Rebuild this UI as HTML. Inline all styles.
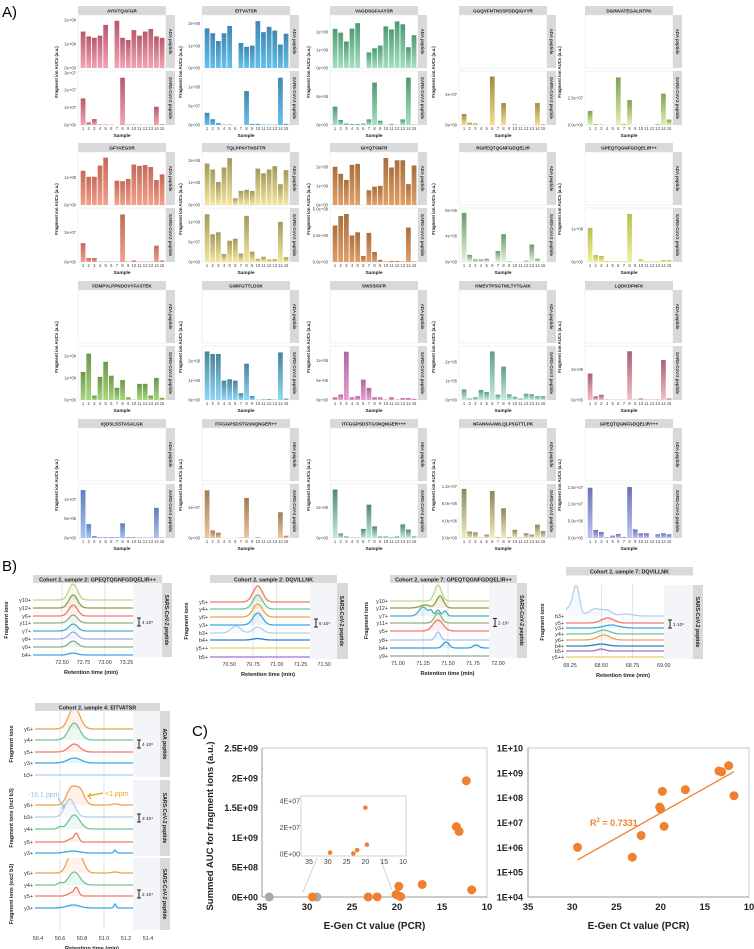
<!DOCTYPE html>
<html><head><meta charset="utf-8">
<style>
html,body{margin:0;padding:0;background:#fff;}
svg{display:block;font-family:"Liberation Sans",Arial,sans-serif;}
</style></head>
<body>
<svg id="fig" width="754" height="949" viewBox="0 0 754 949" xmlns="http://www.w3.org/2000/svg">
<defs id="defs"></defs>
<text x="2" y="17" font-size="15">A)</text>
<text x="2" y="571" font-size="15">B)</text>
<text x="192" y="736" font-size="15">C)</text>
<g id="gA"></g>
<g id="gB"></g>
<g id="gC"></g>
</svg>
<script>
// ---------- Panel A data ----------
const facetTitles=["AYIVTQAFGR","EITVATSR","VAGDSGFAAYSR","GGQVFNTNSSPDDQIGYYR","DGINVATEGALNTPK",
"GFYAEGSR","TQLPPAYTNSFTR","GIYQTSNFR","RGPEQTQGNFGDQELIR","GPEQTQGNFGDQELIR++",
"FDMPVLPPNDOVYFASTEK","GWIFGTTLDSK","SWSSISFR","KMEVTPSGTWLTYTGAIK","LQDKDPNFK",
"IQDSLSSTASALGK","ITFGGPSDSTGSNQNGER++","ITFGGPSDSTGSNQNGER+++","NFANNAAWLQLPSGTTLPK","GPEQTQGNFGDQELIR+++"];
const facetColors=[["#b65a6c","#f3a4b4"],["#3f87b3","#66c0ec"],["#4f9a73","#a6e0c2"],["#a48a45","#f2de8e"],["#7ea253","#e3efb0"],
["#c46a58","#f3a08b"],["#a39a5a","#f5e7a0"],["#a86f3e","#e3a068"],["#6e9870","#e8f3dc"],["#b8c04a","#eef0a0"],
["#6a9848","#a8d880"],["#4a859c","#8fd8f5"],["#b068a0","#e8a0d2"],["#5e9e8c","#c8ece0"],["#a86070","#f3c0c8"],
["#5e7ec0","#a8c4f0"],["#a07c5a","#edc89a"],["#4e8a70","#c6ecdc"],["#8c8660","#f0ecbc"],["#6a70b8","#c0c6f0"]];
const adaValues=[
[1.52,1.32,1.26,1.35,1.8,0,1.97,1.26,1.17,1.58,1.35,1.52,1.63,1.32,1.26],
[1.79,1.57,1.22,1.57,1.9,0,1.13,0.96,1.01,2.12,1.62,1.86,1.69,1.06,1.55],
[2.18,1.97,1.48,2.2,2.5,0,0.87,1.1,1.25,2.32,2.15,2.6,2.44,1.16,1.83],
null,null,
[1.25,1.03,1.03,1.44,1.73,0,0.89,0.87,0.95,1.48,1.43,1.46,1.39,0.91,1.12],
[1.86,1.59,1.03,1.68,2.1,0.3,0.63,0.68,0.63,1.63,1.42,1.59,1.74,0.93,1.56],
[2.0,1.63,1.31,2.1,2.15,0,0.77,0.96,1.0,2.46,1.96,2.34,2.34,1.09,2.07],
null,null,null,null,null,null,null,null,null,null,null,null];
const adaMax=[2.17,2.35,2.9,0,0,1.9,2.33,2.72,0,0,0,0,0,0,0,0,0,0,0,0];
const adaTicks=[[0,1,2],[0,1,2],[0,1,2],[],[],[0,1],[0,1,2],[0,1,2],[],[],[],[],[],[],[],[],[],[],[],[]];
const adaTickLabels=[["0e+00","1e+08","2e+08"],["0e+00","1e+08","2e+08"],["0e+00","1e+08","2e+08"],[],[],["0e+00","1e+08"],["0e+00","1e+08","2e+08"],["0e+00","1e+08","2e+08"],[],[],[],[],[],[],[],[],[],[],[],[]];
const sarsValues=[
[1.53,0.15,0.34,0.03,0.02,0.01,0,2.72,0.02,0.02,0.01,0.01,0.01,1.05,0.04],
[0.32,0.15,0.05,0.01,0.01,0,0,0.89,0.03,0.03,0.01,0.01,0.01,1.24,0.03],
[2.6,0.7,0.2,0.15,0.15,0.2,0.8,6.0,0.6,0.02,0.15,0.02,0.8,6.7,0.05],
[1.45,0.3,0.2,0,0,6.4,0,2.9,0,0.1,0,0,0,2.9,0.1],
[1.3,0.1,0.02,0,0,4.4,0.1,2.3,0,0,0,0,0.1,2.9,0.5],
[1.27,0.27,0.27,0.02,0.02,0.02,0.02,3.2,0.02,0.1,0.03,0.02,0.02,1.1,0.1],
[1.19,0.69,0.74,0.2,0.53,0.58,0.21,1.15,0.26,0.08,0.13,0.06,0.07,1.0,0.12],
[3.44,4.34,4.53,2.5,2.8,0.56,2.75,0.94,0.2,0.05,0.1,0.1,0.05,3.25,0.05],
[7.6,1.1,0.4,0.4,0.5,0,1.7,4.3,0.1,0,0,0.2,2.7,0.5,0],
[1.03,0.21,0.18,0.03,0.02,0.02,0.02,1.45,0,0.08,0.02,0.02,0.02,0.06,0.06],
[1.27,2.1,0.2,1.05,1.73,1.1,0.55,0.9,0.12,0.01,0.73,0.73,0.2,1.0,0.1],
[2.5,2.37,2.37,1.0,1.07,1.0,0.35,1.87,0.21,0.01,0.03,0.05,0.02,2.45,0.07],
[0.07,0.14,1.23,0.07,0.1,0.52,0.31,0.07,0.07,0.01,0.07,0.01,0.05,0.05,0.03],
[0.56,0.08,0.14,0.53,0.42,2.55,0.28,1.75,0.3,0.17,0.08,0.33,0.3,0.2,0.2],
[1.72,0.24,0.34,0.02,0.01,0.01,0.01,3.17,0.02,0.1,0.02,0.02,0.02,2.6,0.1],
[1.24,0.36,0.05,0.02,0.02,0.02,0.02,0.38,0.02,0.02,0.01,0.01,0.01,0.78,0.01],
[6.3,1.0,0.7,0,0,0,0.05,5.3,0,0.1,0,0,0,3.4,0.3],
[3.2,0.3,0.1,0.02,0.02,0.6,2.2,0.77,0.1,0.1,0.05,0.1,0.9,0.56,0.1],
[11.4,1.5,1.3,0.1,0.8,10.9,0.2,6.9,0.2,1.9,0.1,1.1,0.8,3.1,1.6],
[14.9,2.4,1.8,0.2,0.7,1.2,0.3,15.1,2.55,1.4,1.4,0,1.1,1.4,1.1]];
const sarsMax=[3.05,1.39,7.5,7.0,4.9,3.57,1.32,5.0,8.2,1.6,2.4,2.73,1.35,2.78,3.45,1.37,7.0,3.5,12.3,15.7];
const sarsTicks=[[0,1,2,3],[0,0.5,1],[0,4],[0,4],[0,2.5],[0,2],[0,0.5,1],[0,2.5,5],[0,4,8],[0,1],[0,1,2],[0,1,2],[0,0.5,1],[0,1,2],[0,2],[0,0.5,1],[0,4],[0,2],[0,4,8,12],[0,5,10,15]];
const sarsTickLabels=[["0e+00","1e+07","2e+07","3e+07"],["0e+00","5e+07","1e+08"],["0e+00","4e+08"],["0e+00","4e+07"],["0.0e+00","2.5e+07"],
["0e+00","2e+07"],["0e+00","5e+07","1e+08"],["0.0e+00","2.5e+08","5.0e+08"],["0e+00","4e+06","8e+06"],["0e+00","1e+08"],
["0e+00","1e+08","2e+08"],["0e+00","1e+08","2e+08"],["0e+00","5e+05","1e+06"],["0e+00","1e+05","2e+05"],["0e+00","2e+05"],
["0e+00","5e+06","1e+07"],["0e+00","4e+07"],["0e+00","2e+06"],["0.0e+00","4.0e+06","8.0e+06","1.2e+07"],["0.0e+00","5.0e+06","1.0e+07","1.5e+07"]];

// ---------- Panel C data ----------
const ctValues=[12.3,13.4,13.1,17.2,19.8,11.7,29.4,23.2,22.2,20.1,20.0,19.6];
const aucValues=[1.95e9,1.18e9,1.1e9,2.1e8,1.8e8,1.2e8,1.0e6,4.0e5,3.0e6,4.2e7,3.5e7,7.0e6];
const ctNegative=[34.2,28.9];
const aucNegative=[0,0];
const cLeftTicks=[0,5e8,1e9,1.5e9,2e9,2.5e9];
const cLeftTickLabels=["0E+00","5E+08","1E+09","1.5E+09","2E+09","2.5E+09"];
const cXTicks=[35,30,25,20,15,10];
const cLogTicks=[4,5,6,7,8,9,10];
const insetYTicks=[0,2e7,4e7];
const insetYLabels=["0E+00","2E+07","4E+07"];

const NS="http://www.w3.org/2000/svg";
const defs=document.getElementById('defs');
function el(tag,attrs,parent,txt){const e=document.createElementNS(NS,tag);for(const k in attrs)e.setAttribute(k,attrs[k]);if(txt!==undefined)e.textContent=txt;parent.appendChild(e);return e;}

// ---------- Panel A ----------
const gA=document.getElementById('gA');
const colX=[78,202,330,459,585], rowY=[6,143,281,419], PW=88, SW=9;
function subplot(g,fi,x,y,h,vals,max,ticks,labels,strip,showX){
  const bg=el('rect',{x:x,y:y,width:PW,height:h,fill:'#fff',stroke:'#e6e6e6','stroke-width':0.6},g);
  
  
  const st=el('rect',{x:x+PW,y:y,width:SW,height:h,fill:'#d9d9d9'},g);
  
  
  const stt=el('text',{x:0,y:0,'font-size':4.3,'font-weight':'bold','text-anchor':'middle',fill:'#333',transform:`translate(${x+PW+3},${y+h/2}) rotate(90)`},g,strip);
  
  
  const ys=v=>y+h-(v/max)*(h-1);
  if(vals){
    ticks.forEach((t,i)=>{
      const tl=el('text',{x:x-2,y:ys(t)+1.5,'font-size':4.2,'text-anchor':'end',fill:'#444'},g,labels[i]);
      
      
    });
    const band=PW/15.6;
    vals.forEach((v,i)=>{
      if(v<=0)return;
      const bx=x+band*0.4+i*band, by=ys(Math.min(v,max));
      const r=el('rect',{x:bx+band*0.08,y:by,width:band*0.84,height:y+h-by,fill:`url(#grad${fi})`},g);
      
      
    });
  }
  if(showX){
    const band=PW/15.6;
    for(let i=0;i<15;i++){
      const t=el('text',{x:x+band*0.4+i*band+band/2,y:y+h+5,'font-size':4.2,'text-anchor':'middle',fill:'#444'},g,String(i+1));
      
      
    }
  }
}
facetTitles.forEach((title,fi)=>{
  const c=fi%5, r=Math.floor(fi/5), x=colX[c], y0=rowY[r];
  const gr=el('linearGradient',{id:'grad'+fi,x1:0,y1:0,x2:0,y2:1},defs);
  el('stop',{offset:'0','stop-color':facetColors[fi][0]},gr);
  el('stop',{offset:'1','stop-color':facetColors[fi][1]},gr);
  const g=el('g',{},gA);
  
  
  const ts=el('rect',{x:x,y:y0,width:PW,height:9,fill:'#d9d9d9'},g);
  
  
  const tt=el('text',{x:x+PW/2,y:y0+6.3,'font-size':4.6,'font-weight':'bold','text-anchor':'middle',fill:'#222'},g,title);
  
  
  subplot(g,fi,x,y0+9,53,adaValues[fi],adaMax[fi],adaTicks[fi],adaTickLabels[fi],'ADA peptide',false);
  subplot(g,fi,x,y0+65,54,sarsValues[fi],sarsMax[fi],sarsTicks[fi],sarsTickLabels[fi],'SARS-CoV-2 peptide',true);
  const yl=el('text',{x:0,y:0,'font-size':4.3,'font-weight':'bold','text-anchor':'middle',fill:'#222',transform:`translate(${x-(c>=3?24:20)},${y0+66}) rotate(-90)`},g,'Fragment ion AUCs (a.u.)');
  
  
  const sl=el('text',{x:x+PW/2,y:y0+131,'font-size':4.8,'font-weight':'bold','text-anchor':'middle',fill:'#222'},g,'Sample');
  
  
});

// ---------- Panel B ----------
const gB=document.getElementById('gB');
const chromPanels=[
 {title:"Cohort 2, sample 2: GPEQTQGNFGDQELIR++",px:33,pr:133,gr:162,sr:172,ty:575,subs:[{y0:583,y1:657,strip:"SARS-CoV-2 peptide",scale:"4·10⁵",
  ions:["y10+","y12+","y6+","y11+","y7+","y8+","y9+","b4+"],base:[600,608,616,623,631,639,647,655],
  cols:["#b7d98a","#9a9a3a","#f07a6a","#8db07a","#4ab0c0","#a0a8e8","#80b090","#4aa0e0"],
  peaks:[[[72.63,16]],[[72.63,13]],[[72.63,11]],[[72.63,8]],[[72.63,7]],[[72.63,7]],[[72.63,6]],[[72.63,2]]]}],
  t0:72.5,x0:62,k:86,ticks:[72.5,72.75,73.0,73.25],tlab:["72.50","72.75","73.00","73.25"],grid:[72.5,73.0],ay:660},
 {title:"Cohort 2, sample 2: DQVILLNK",px:210,pr:310,gr:337,sr:348,ty:575,subs:[{y0:583,y1:659,strip:"SARS-CoV-2 peptide",scale:"6·10⁵",
  ions:["y5+","y4+","y6+","y3+","b3+","b4+","y5++","b5+"],base:[602,609,617,625,633,640,648,657],
  cols:["#f07a6a","#6cc69a","#f0a050","#3aa8e8","#b0d0f0","#2a80d0","#e8d060","#a070d0"],
  peaks:[[[70.8,16]],[[70.8,14]],[[70.8,13]],[[70.8,12]],[[70.57,7],[70.8,6]],[[70.8,1.5]],[],[]]}],
  t0:70.75,x0:253,k:95,ticks:[70.5,70.75,71.0,71.25,71.5],tlab:["70.50","70.75","71.00","71.25","71.50"],grid:[70.75,71.0],ay:662},
 {title:"Cohort 2, sample 7: GPEQTQGNFGDQELIR++",px:390,pr:489,gr:517,sr:527,ty:575,subs:[{y0:583,y1:658,strip:"SARS-CoV-2 peptide",scale:"2·10⁵",
  ions:["y10+","y12+","y7+","y11+","y5+","y8+","b4+","y9+"],base:[601,608,616,623,631,640,648,656],
  cols:["#b7d98a","#9a9a3a","#4ab0c0","#8db07a","#f07a6a","#a0c0f0","#3a98e0","#80b090"],
  peaks:[[[71.4,16,0.035]],[[71.42,12,0.035],[71.27,3]],[[71.25,9,0.04],[71.33,5,0.02],[71.4,6,0.02],[71.47,5,0.02]],[[71.4,10,0.035]],[[71.4,11,0.05]],[[71.4,8,0.025]],[[71.48,6,0.03],[71.78,3,0.03]],[]]}],
  t0:71.0,x0:398,k:100,ticks:[71.0,71.25,71.5,71.75,72.0],tlab:["71.00","71.25","71.50","71.75","72.00"],grid:[71.25,71.5],ay:661},
 {title:"Cohort 2, sample 7: DQVILLNK",px:566,pr:664,gr:693,sr:703,ty:567,subs:[{y0:585,y1:659,strip:"SARS-CoV-2 peptide",scale:"1·10⁶",
  ions:["b3+","y5+","y3+","y4+","y6+","b4+","b5+","y5++"],base:[616,623,628,634,640,646,651,657],
  cols:["#b0d0f0","#f07a6a","#3aa8e8","#6cc69a","#f0a050","#2a80d0","#a070d0","#e8d060"],
  peaks:[[[68.3,30,0.025],[68.24,8,0.03],[68.45,7,0.05],[68.55,5,0.04],[68.7,2,0.05]],[[68.55,5,0.05]],[[68.58,3,0.06]],[[68.52,4,0.05]],[[68.52,5,0.05]],[[68.5,2,0.05]],[[68.5,2,0.03]],[]]}],
  t0:68.25,x0:570,k:125,ticks:[68.25,68.5,68.75,69.0],tlab:["68.25","68.50","68.75","69.00"],grid:[68.5,68.75],ay:663},
 {title:"Cohort 2, sample 4: EITVATSR",px:35,pr:133,gr:160,sr:170,ty:703,subs:[
  {y0:711,y1:777,strip:"ADA peptide",scale:"4·10⁶",ylab:"Fragment ions",ions:["y6+","y4+","y5+","y3+","b3+"],base:[729,740,752,763,775],
   cols:["#f0a050","#6cc69a","#f07a6a","#3aa8e8","#b0d0f0"],peaks:[[[50.73,22,0.05]],[[50.73,17,0.05]],[[50.73,8,0.05]],[[50.73,5,0.06]],[]]},
  {y0:780,y1:856,strip:"SARS-CoV-2 peptide",scale:"3·10⁴",ylab:"Fragment ions (incl b3)",ions:["y6+","b3+","y4+","y5+","y3+"],base:[805,817,829,842,853],
   cols:["#f0a050","#b0d0f0","#6cc69a","#f07a6a","#3aa8e8"],peaks:[[[50.7,16,0.04],[50.78,15,0.04],[51.1,1,0.03]],[[50.69,18,0.045]],[[50.73,14,0.05],[50.6,2,0.02]],[[50.75,8,0.02],[50.7,3,0.03]],[[50.72,2,0.06],[51.1,3,0.01]]]},
  {y0:858,y1:930,strip:"SARS-CoV-2 peptide",scale:"2·10⁴",ylab:"Fragment ions (excl b3)",ions:["y6+","y4+","y5+","y3+"],base:[873,885,896,908],
   cols:["#f0a050","#6cc69a","#f07a6a","#3aa8e8"],peaks:[[[50.7,17,0.04],[50.78,16,0.04],[51.1,1,0.03]],[[50.73,13,0.05],[50.6,2,0.02]],[[50.75,8,0.02],[50.7,3,0.03]],[[50.72,3,0.06],[51.1,4,0.01]]]}],
  t0:50.4,x0:38,k:110,ticks:[50.4,50.6,50.8,51.0,51.2,51.4],tlab:["50.4","50.6","50.8","51.0","51.2","51.4"],grid:[50.6,51.0],ay:936}
];
chromPanels.forEach((P,pi)=>{
  const g=el('g',{},gB);
  
  
  const xs=v=>P.x0+(v-P.t0)*P.k;
  const ts=el('rect',{x:P.px,y:P.ty,width:P.gr-P.px,height:8.5,fill:'#d9d9d9'},g);
  
  
  const tt=el('text',{x:(P.px+P.gr)/2,y:P.ty+6.3,'font-size':5.4,'font-weight':'bold','text-anchor':'middle',fill:'#222'},g,P.title);
  
  
  P.subs.forEach((S,si)=>{
    const clip=el('clipPath',{id:`cp${pi}_${si}`},defs);
    el('rect',{x:P.px,y:S.y0,width:P.pr-P.px,height:S.y1-S.y0},clip);
    el('rect',{x:P.px,y:S.y0,width:P.pr-P.px,height:S.y1-S.y0,fill:'#fff'},g);
    const gr=el('rect',{x:P.pr,y:S.y0,width:P.gr-P.pr,height:S.y1-S.y0,fill:'#f3f5f8'},g);
    
    
    const st=el('rect',{x:P.gr,y:S.y0,width:P.sr-P.gr,height:S.y1-S.y0,fill:'#d9d9d9'},g);
    
    
    const stt=el('text',{x:0,y:0,'font-size':5.2,'font-weight':'bold','text-anchor':'middle',fill:'#222',transform:`translate(${P.gr+3},${(S.y0+S.y1)/2}) rotate(90)`},g,S.strip);
    
    
    P.grid.forEach(v=>{el('line',{x1:xs(v),x2:xs(v),y1:S.y0,y2:S.y1,stroke:'#d0d0d0','stroke-width':0.6},g);});
    const gl=el('g',{'clip-path':`url(#cp${pi}_${si})`},g);
    S.ions.forEach((ion,ii)=>{
      const b=S.base[ii];
      let d='',fillD='';
      for(let s=0;s<=120;s++){
        const px=P.px+(P.pr-P.px)*s/120, v=P.t0+(px-P.x0)/P.k;
        let h=0;S.peaks[ii].forEach(p=>{const sg=p[2]||0.05;h+=p[1]*Math.exp(-0.5*((v-p[0])/sg)**2);});
        const py=b-h;
        d+=(s?'L':'M')+px.toFixed(1)+','+py.toFixed(1);
      }
      fillD=d+`L${P.pr},${b}L${P.px},${b}Z`;
      el('path',{d:fillD,fill:S.cols[ii],'fill-opacity':0.12},gl);
      const ln=el('path',{d:d,fill:'none',stroke:S.cols[ii],'stroke-width':1.3},gl);
      
      
      const lb=el('text',{x:P.px-2,y:b+2,'font-size':5.4,'text-anchor':'end',fill:'#333'},g,ion);
      
      
    });
    const cy=(S.y0+S.y1)/2+ (pi<4?2:0), bx=P.pr+6;
    el('path',{d:`M${bx-2},${cy-4}H${bx+2}M${bx},${cy-4}V${cy+4}M${bx-2},${cy+4}H${bx+2}`,stroke:'#222','stroke-width':1,fill:'none'},g);
    const sb=el('text',{x:bx+3,y:cy+2,'font-size':4.6,fill:'#222'},g,S.scale);
    
    
    const yl=el('text',{x:0,y:0,'font-size':5.4,'font-weight':'bold','text-anchor':'middle',fill:'#222',transform:`translate(${P.px-(pi==0?25:22)},${(S.y0+S.y1)/2}) rotate(-90)`},g,S.ylab||'Fragment ions');
    
    
  });
  P.ticks.forEach((t,i)=>{
    const tx=el('text',{x:xs(t),y:P.ay+4,'font-size':5.4,'text-anchor':'middle',fill:'#333'},g,P.tlab[i]);
    
    
  });
  const at=el('text',{x:(P.px+P.pr)/2+8,y:P.ay+14,'font-size':5.6,'font-weight':'bold','text-anchor':'middle',fill:'#222'},g,'Retention time (min)');
  
  
});
// annotations
const an1=el('text',{x:28,y:797,'font-size':7,fill:'#9cc0ea'},gB,'-16.1 ppm');


const an2=el('text',{x:105,y:796,'font-size':7,fill:'#f0a020'},gB,'<1 ppm');


el('path',{d:'M58,798 L64,808 M61,808 L64,808 L64,804',stroke:'#9cc0ea','stroke-width':1.2,fill:'none'},gB);
el('path',{d:'M103,793 L88,796 M91,793 L88,796 L91,799',stroke:'#f0a020','stroke-width':1.2,fill:'none'},gB);

// ---------- Panel C ----------
const gC=document.getElementById('gC');
const L={x0:262,x1:487,y0:897,y1:748}, R={x0:528,x1:749,y0:897,y1:748};
const cx=(A,ct)=>A.x0+(35-ct)/25*(A.x1-A.x0);
const lyL=v=>L.y0-v/2.5e9*(L.y0-L.y1);
const lyR=v=>R.y0-(Math.log10(v)-4)/6*(R.y0-R.y1);
[L,R].forEach((A,ai)=>{
  const fr=el('rect',{x:A.x0,y:A.y1,width:A.x1-A.x0,height:A.y0-A.y1,fill:'none',stroke:'#c8c8c8','stroke-width':1},gC);
  
  
  el('line',{x1:A.x0,x2:A.x0,y1:A.y1,y2:A.y0,stroke:'#999','stroke-width':1},gC);
  el('line',{x1:A.x0,x2:A.x1,y1:A.y0,y2:A.y0,stroke:'#999','stroke-width':1},gC);
  cXTicks.forEach(t=>{
    const tx=el('text',{x:cx(A,t),y:A.y0+13,'font-size':9.5,'font-weight':'bold','text-anchor':'middle',fill:'#222'},gC,String(t));
    
    
  });
  const xt=el('text',{x:(A.x0+A.x1)/2,y:929,'font-size':10,'font-weight':'bold','text-anchor':'middle',fill:'#222'},gC,'E-Gen Ct value (PCR)');
  
  
});
cLeftTicks.forEach((t,i)=>{
  const tx=el('text',{x:258,y:lyL(t)+3.5,'font-size':9,'font-weight':'bold','text-anchor':'end',fill:'#222'},gC,cLeftTickLabels[i]);
  
  
});
cLogTicks.forEach(p=>{
  const tx=el('text',{x:523,y:lyR(Math.pow(10,p))+3.5,'font-size':9,'font-weight':'bold','text-anchor':'end',fill:'#222'},gC,'1E+'+(p<10?'0'+p:p));
  
  
});
const yt=el('text',{x:0,y:0,'font-size':9.5,'font-weight':'bold','text-anchor':'middle',fill:'#222',transform:'translate(213,826) rotate(-90)'},gC,'Summed AUC for fragment ions (a.u.)');


// inset
const I={x0:301,x1:406,y0:856,y1:796,px0:309,px1:403};
el('line',{x1:303,y1:892,x2:317,y2:858,stroke:'#c8c8c8','stroke-width':0.8},gC);
el('line',{x1:392,y1:890,x2:380,y2:858,stroke:'#c8c8c8','stroke-width':0.8},gC);
const ib=el('rect',{x:I.x0,y:I.y1,width:I.x1-I.x0,height:I.y0-I.y1,fill:'#fff',stroke:'#c8c8c8','stroke-width':0.8},gC);


const ix=ct=>I.px0+(35-ct)/25*(I.px1-I.px0);
const iy=v=>I.y0-2-v/4e7*(I.y0-2-(I.y1+5));
insetYTicks.forEach((t,i)=>{
  const tx=el('text',{x:I.x0-1,y:iy(t)+2.5,'font-size':7,'text-anchor':'end',fill:'#444'},gC,insetYLabels[i]);
  
  
});
cXTicks.forEach(t=>{
  const tx=el('text',{x:ix(t),y:I.y0+8,'font-size':7,'text-anchor':'middle',fill:'#444'},gC,String(t));
  
  
});
ctValues.forEach((ct,i)=>{
  if(aucValues[i]<=4e7){
    const c=el('circle',{cx:ix(ct),cy:iy(aucValues[i]),r:2.3,fill:'#f08030'},gC);
    
    
  }
});
// main points
ctNegative.forEach((ct,i)=>{
  const c=el('circle',{cx:cx(L,ct),cy:lyL(aucNegative[i]),r:4.5,fill:'#a8a8a8'},gC);
  
  
});
ctValues.forEach((ct,i)=>{
  const c=el('circle',{cx:cx(L,ct),cy:lyL(aucValues[i]),r:4.5,fill:'#f08030'},gC);
  
  
  const c2=el('circle',{cx:cx(R,ct),cy:lyR(aucValues[i]),r:4.5,fill:'#f08030'},gC);
  
  
});
// regression line in log space
(function(){
  const n=ctValues.length;let sx=0,sy=0,sxx=0,sxy=0;
  ctValues.forEach((x,i)=>{const y=Math.log10(aucValues[i]);sx+=x;sy+=y;sxx+=x*x;sxy+=x*y;});
  const m=(n*sxy-sx*sy)/(n*sxx-sx*sx), b=(sy-m*sx)/n;
  const xa=Math.max(...ctValues), xb=Math.min(...ctValues);
  const ln=el('line',{x1:cx(R,xa),y1:lyR(Math.pow(10,m*xa+b)),x2:cx(R,xb),y2:lyR(Math.pow(10,m*xb+b)),stroke:'#f08030','stroke-width':1.3},gC);
  
  
})();
const r2=el('text',{x:590,y:826,'font-size':9,'font-weight':'bold',fill:'#f08030'},gC);


r2.innerHTML='R<tspan dy="-4" font-size="6">2</tspan><tspan dy="4"> = 0.7331</tspan>';
</script>
</body></html>
